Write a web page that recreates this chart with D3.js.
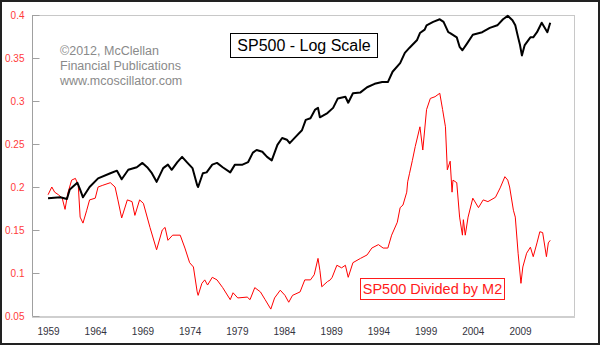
<!DOCTYPE html>
<html>
<head>
<meta charset="utf-8">
<script src="https://cdn.jsdelivr.net/npm/d3@7"></script>
<style>
  html, body { margin: 0; padding: 0; background: #fff; }
  svg { display: block; font-family: Arial, "Liberation Sans", sans-serif; }
</style>
</head>
<body>
<div id="chart"></div>
<script>
// values: decimal year, ratio on the left scale
const spYears = [1959.0, 1960.3, 1961.0, 1961.3, 1962.1, 1962.4, 1962.7, 1963.4, 1964.3, 1965.6,
  1966.3, 1966.8, 1967.5, 1968.4, 1969.0, 1969.5, 1970.0, 1970.5, 1971.2, 1971.7,
  1972.1, 1972.7, 1973.2, 1973.7, 1974.3, 1974.8, 1974.9, 1975.4, 1975.8, 1976.4,
  1976.9, 1977.5, 1978.3, 1978.8, 1979.6, 1980.2, 1980.7, 1981.1, 1981.7, 1982.2,
  1982.7, 1983.3, 1983.8, 1984.3, 1984.6, 1985.2, 1985.9, 1986.3, 1986.8, 1987.3,
  1987.6, 1987.8, 1988.6, 1989.2, 1989.7, 1990.5, 1990.8, 1991.3, 1992.1, 1992.8,
  1993.6, 1994.4, 1995.0, 1995.5, 1996.3, 1996.8, 1997.3, 1998.1, 1998.4, 1998.9,
  1999.1, 1999.8, 2000.5, 2000.9, 2001.4, 2001.6, 2002.3, 2002.6, 2002.9, 2003.4,
  2004.0, 2005.0, 2005.8, 2006.6, 2007.2, 2007.7, 2008.2, 2008.5, 2008.8, 2009.0,
  2009.2, 2009.5, 2010.1, 2010.4, 2010.8, 2011.3, 2011.9, 2012.2]
const spValues = [0.187, 0.188, 0.186, 0.197, 0.205, 0.197, 0.188, 0.200, 0.210, 0.216,
  0.219, 0.209, 0.220, 0.223, 0.228, 0.223, 0.216, 0.206, 0.222, 0.226,
  0.220, 0.229, 0.235, 0.229, 0.222, 0.202, 0.200, 0.216, 0.217, 0.226,
  0.228, 0.223, 0.217, 0.226, 0.226, 0.229, 0.240, 0.243, 0.241, 0.235,
  0.231, 0.249, 0.257, 0.255, 0.251, 0.258, 0.266, 0.278, 0.280, 0.290,
  0.292, 0.281, 0.286, 0.292, 0.303, 0.305, 0.298, 0.309, 0.310, 0.316,
  0.320, 0.322, 0.322, 0.334, 0.344, 0.356, 0.362, 0.371, 0.379, 0.383,
  0.388, 0.392, 0.395, 0.392, 0.380, 0.379, 0.374, 0.363, 0.359, 0.367,
  0.377, 0.380, 0.385, 0.388, 0.395, 0.399, 0.394, 0.388, 0.374, 0.365,
  0.353, 0.365, 0.374, 0.374, 0.380, 0.391, 0.380, 0.391]

const m2Years = [1959.0, 1959.4, 1959.7, 1960.1, 1960.5, 1960.8, 1961.1, 1961.5, 1961.9, 1962.2,
  1962.4, 1962.7, 1963.1, 1963.4, 1964.0, 1964.3, 1964.8, 1965.6, 1966.1, 1966.4,
  1966.8, 1967.4, 1967.9, 1968.2, 1968.7, 1969.1, 1969.8, 1970.5, 1971.1, 1971.4,
  1971.7, 1972.2, 1973.0, 1973.5, 1974.0, 1974.4, 1974.8, 1974.9, 1975.3, 1975.6,
  1975.9, 1976.4, 1976.9, 1977.5, 1978.3, 1978.6, 1979.1, 1980.1, 1980.4, 1980.9,
  1981.5, 1982.0, 1982.6, 1983.0, 1983.6, 1984.1, 1984.5, 1984.9, 1985.7, 1986.2,
  1986.8, 1987.2, 1987.6, 1987.8, 1988.0, 1988.6, 1988.9, 1989.1, 1989.6, 1990.1,
  1990.5, 1990.8, 1991.3, 1992.1, 1992.8, 1993.3, 1994.0, 1994.5, 1995.0, 1995.4,
  1996.0, 1996.3, 1996.6, 1997.0, 1997.1, 1997.3, 1997.6, 1997.9, 1998.4, 1998.7,
  1999.1, 1999.5, 2000.0, 2000.5, 2000.8, 2001.1, 2001.3, 2001.6, 2001.8, 2001.9,
  2002.3, 2002.6, 2002.9, 2003.0, 2003.2, 2003.5, 2004.0, 2004.6, 2005.1, 2005.6,
  2006.4, 2006.9, 2007.4, 2007.7, 2007.9, 2008.3, 2008.5, 2008.8, 2009.1, 2009.3,
  2009.7, 2010.1, 2010.4, 2010.8, 2011.1, 2011.4, 2011.8, 2012.0, 2012.2]
const m2Values = [0.191, 0.200, 0.194, 0.191, 0.187, 0.174, 0.193, 0.208, 0.210, 0.202,
  0.165, 0.158, 0.173, 0.185, 0.187, 0.200, 0.202, 0.205, 0.200, 0.185,
  0.164, 0.185, 0.183, 0.167, 0.185, 0.181, 0.153, 0.127, 0.150, 0.153,
  0.138, 0.144, 0.144, 0.129, 0.112, 0.107, 0.078, 0.074, 0.088, 0.092,
  0.086, 0.095, 0.092, 0.083, 0.069, 0.077, 0.071, 0.072, 0.069, 0.083,
  0.078, 0.069, 0.058, 0.071, 0.080, 0.074, 0.066, 0.074, 0.078, 0.092,
  0.092, 0.098, 0.117, 0.103, 0.084, 0.090, 0.092, 0.095, 0.109, 0.106,
  0.109, 0.095, 0.112, 0.117, 0.121, 0.129, 0.133, 0.129, 0.129, 0.144,
  0.159, 0.176, 0.179, 0.194, 0.206, 0.216, 0.231, 0.247, 0.270, 0.243,
  0.290, 0.303, 0.305, 0.309, 0.290, 0.270, 0.220, 0.230, 0.194, 0.208,
  0.205, 0.165, 0.144, 0.162, 0.144, 0.165, 0.187, 0.176, 0.185, 0.183,
  0.188, 0.199, 0.212, 0.208, 0.200, 0.173, 0.165, 0.123, 0.088, 0.107,
  0.123, 0.130, 0.119, 0.135, 0.148, 0.147, 0.119, 0.135, 0.138]

const xTicks = [1959, 1964, 1969, 1974, 1979, 1984, 1989, 1994, 1999, 2004, 2009]
const yTicks = [0.05, 0.1, 0.15, 0.2, 0.25, 0.3, 0.35, 0.4]
const yTickLabels = ["0.05", "0.1", "0.15", "0.2", "0.25", "0.3", "0.35", "0.4"]

const spLabel = "SP500 - Log Scale"
const m2Label = "SP500 Divided by M2"
const credit = ["\u00A92012, McClellan", "Financial Publications", "www.mcoscillator.com"]

const width = 600
const height = 345
const plot = {left: 32, right: 574, top: 15, bottom: 316}

const svg = d3.select("#chart").append("svg")
    .attr("width", width)
    .attr("height", height)

svg.append("rect")
    .attr("x", 1).attr("y", 1)
    .attr("width", width - 2).attr("height", height - 2)
    .attr("fill", "#fff")
    .attr("stroke", "#222")
    .attr("stroke-width", 2)

const x = d3.scaleLinear()
    .domain([1957.3, 2014.72])
    .range([plot.left, plot.right])

const y = d3.scaleLinear()
    .domain([0.05, 0.4])
    .range([plot.bottom, plot.top])

// plot frame
svg.append("rect")
    .attr("x", plot.left + 0.5).attr("y", plot.top + 0.5)
    .attr("width", plot.right - plot.left).attr("height", plot.bottom - plot.top)
    .attr("fill", "#fff")
    .attr("stroke", "#c8c8c8")

svg.append("line")
    .attr("x1", plot.left + 0.5).attr("x2", plot.left + 0.5)
    .attr("y1", plot.top).attr("y2", plot.bottom + 1)
    .attr("stroke", "#a0a0a0")

svg.append("line")
    .attr("x1", plot.left).attr("x2", plot.right + 1)
    .attr("y1", plot.bottom + 1).attr("y2", plot.bottom + 1)
    .attr("stroke", "#cfcfcf")
    .attr("stroke-width", 2)

// left axis, ticks point inwards
svg.append("g")
    .attr("transform", `translate(${plot.left + 0.5},0)`)
    .call(d3.axisLeft(y)
      .tickValues(yTicks)
      .tickFormat((d, i) => yTickLabels[i])
      .tickSize(-7)
      .tickPadding(8))
    .call(g => g.select(".domain").remove())
    .call(g => g.selectAll(".tick line").attr("stroke", "#a0a0a0"))
    .call(g => g.selectAll(".tick text")
      .attr("fill", "#ff3b3b")
      .attr("font-size", 10)
      .attr("font-family", "Arial, 'Liberation Sans', sans-serif"))

// bottom axis, labels only
svg.append("g")
    .attr("transform", `translate(0,${plot.bottom})`)
    .call(d3.axisBottom(x)
      .tickValues(xTicks)
      .tickFormat(d3.format("d"))
      .tickSize(0)
      .tickPadding(12))
    .call(g => g.select(".domain").remove())
    .call(g => g.selectAll(".tick text")
      .attr("fill", "#333340")
      .attr("font-size", 10)
      .attr("font-family", "Arial, 'Liberation Sans', sans-serif"))

const line = d3.line()
    .x(d => x(d[0]))
    .y(d => y(d[1]))

svg.append("path")
    .datum(d3.zip(m2Years, m2Values))
    .attr("fill", "none")
    .attr("stroke", "#ff0000")
    .attr("stroke-width", 1)
    .attr("stroke-linejoin", "round")
    .attr("d", line)

svg.append("path")
    .datum(d3.zip(spYears, spValues))
    .attr("fill", "none")
    .attr("stroke", "#000")
    .attr("stroke-width", 2)
    .attr("stroke-linejoin", "round")
    .attr("d", line)

// copyright text
svg.append("g")
    .attr("fill", "#8a8a8a")
    .attr("font-size", 12.5)
  .selectAll("text")
  .data(credit)
  .join("text")
    .attr("x", 60)
    .attr("y", (d, i) => 55 + i * 15)
    .text(d => d)

// labelled boxes
function box(label, bx, by, bw, bh, size, color) {
  const g = svg.append("g")
  g.append("rect")
      .attr("x", bx + 0.5).attr("y", by + 0.5)
      .attr("width", bw).attr("height", bh)
      .attr("fill", "#fff")
      .attr("stroke", color)
  g.append("text")
      .attr("x", bx + bw / 2 + 0.5)
      .attr("y", by + bh / 2 + 0.5)
      .attr("dy", "0.36em")
      .attr("text-anchor", "middle")
      .attr("font-size", size)
      .attr("fill", color)
      .text(label)
}

box(spLabel, 230, 33, 147, 24, 16, "#000")
box(m2Label, 360, 278, 144, 21, 14.5, "#ff1a1a")
</script>
</body>
</html>
